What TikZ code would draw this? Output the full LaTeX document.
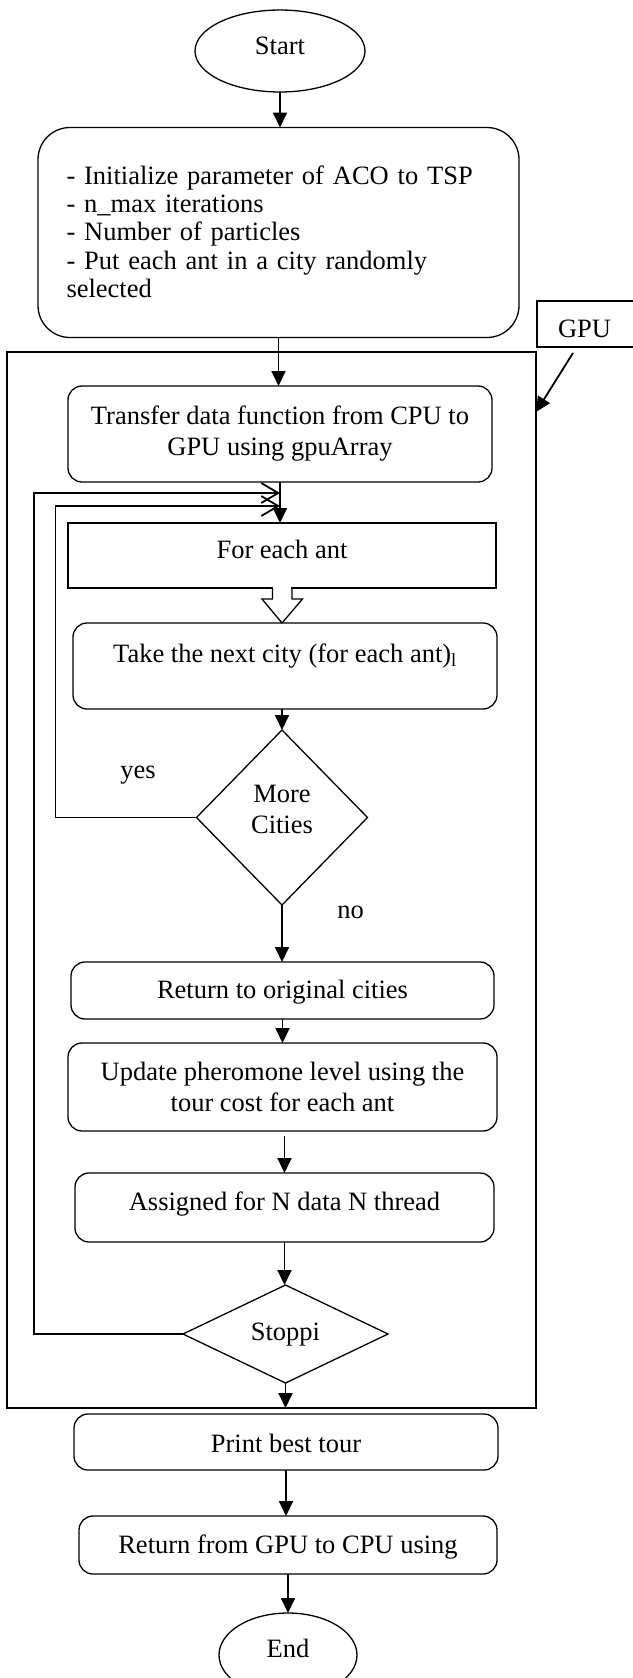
\documentclass[tikz,border=0pt]{standalone}
\usepackage{fontspec}
\setmainfont{Liberation Serif}
\usetikzlibrary{shapes.geometric,arrows.meta,calc}
\begin{document}
\begin{tikzpicture}[x=1pt,y=-1pt,
  every node/.style={font=\fontsize{26.5pt}{31pt}\selectfont, inner sep=0pt, outer sep=0pt},
  box/.style={draw, line width=1.3pt, rounded corners=14pt},
  sqbox/.style={draw, line width=1.3pt},
  tdep/.style={text height=19pt, text depth=#1},
  dia/.style={draw, diamond, line width=1.3pt},
  oval/.style={draw, ellipse, line width=1.3pt},
  arr/.style={line width=1.8pt, -{Triangle[length=15pt,width=14pt]}},
  back/.style={line width=1.8pt, -{Straight Barb[length=17pt,width=20pt,line width=1.8pt]}},
  lbl/.style={anchor=base}]
\useasboundingbox (0,0) rectangle (632,1678);
\fill[white] (0,0) rectangle (632,1678);

% frame (GPU region)
\node[draw, line width=1.2pt, minimum width=529pt, minimum height=1056pt] (frame) at (271.5,880) {};

\node[oval, minimum width=170pt, minimum height=82pt, tdep=11pt] (start) at (280,51) {Start};

\node[box, rounded corners=32pt, minimum width=481pt, minimum height=210pt,
      text width=424pt, inner xsep=28.5pt, align=left,
      font=\fontsize{26.5pt}{28.3pt}\selectfont] (init) at (278.5,232.5)
  {- Initialize parameter of ACO to TSP\\
   - n\_max iterations\\
   - Number of particles\\
   - Put each ant in a city randomly\\
   selected\rule[-2pt]{0pt}{2pt}};

\node[draw, line width=1.3pt, anchor=west, minimum height=46pt, text height=26pt, text depth=0pt] (gpu) at (537,324)
  {\hspace*{21pt}GPU\hspace*{60pt}};

\node[box, minimum width=424pt, minimum height=96pt, align=center] (transfer) at (280,434)
  {Transfer data function from CPU to\\GPU using gpuArray};

\node[sqbox, minimum width=428pt, minimum height=65pt, tdep=14pt] (foreach) at (282,555.5) {For each ant};

\node[box, minimum width=424pt, minimum height=86pt, tdep=27pt] (take) at (285,666)
  {Take the next city (for each ant)\textsubscript{l}};

\node[dia, minimum width=171pt, minimum height=175pt, align=center] (more) at (282,817.5)
  {More\\Cities\rule[-16pt]{0pt}{16pt}};

\node[lbl] (yes) at (138,778) {yes};
\node[lbl] (no) at (350.5,918) {no};

\node[box, minimum width=423pt, minimum height=57pt, tdep=4pt] (retorig) at (282.5,990.5) {Return to original cities};

\node[box, minimum width=429pt, minimum height=88pt, align=center] (update) at (282.5,1087)
  {Update pheromone level using the\\tour cost for each ant};

\node[box, minimum width=419pt, minimum height=69pt, tdep=14pt] (assigned) at (284.5,1207.5) {Assigned for N data N thread};

\node[dia, shape aspect=2, minimum width=205pt, minimum height=98pt, tdep=7pt] (stop) at (285.5,1334) {Stoppi};

\node[box, minimum width=424pt, minimum height=56pt, text height=21pt, text depth=1pt] (print) at (286,1442) {Print best tour};

\node[box, minimum width=418pt, minimum height=58pt, tdep=3pt] (retgpu) at (288,1545) {Return from GPU to CPU using};

\node[oval, minimum width=138pt, minimum height=84pt, tdep=15pt] (end) at (288,1655) {End};

% junctions on the main line
\coordinate (j1) at ($(transfer.south)+(0,11)$);
\coordinate (j2) at ($(transfer.south)+(0,24)$);

% connectors
\draw[arr] (start.south) -- (start.south |- init.north);
\draw[arr] (init.south) -- (init.south |- transfer.north);
\draw[arr] ($(gpu.south west)+(36,6)$) -- ($(frame.north east)+(0,60)$);
\draw[arr] (transfer.south) -- (transfer.south |- foreach.north);

% hollow block arrow
\fill[white] ($(foreach.south)+(-8.7,-2)$) rectangle ($(foreach.south)+(9.3,2)$);
\draw[line width=1.3pt, line join=miter] ($(foreach.south)+(-9.5,0)$) -- ++(0,11) -- ++(-10.5,0)
   -- (take.north -| foreach.south) -- ($(foreach.south)+(20.5,11)$) -- ++(-10.5,0) -- ++(0,-11);

\draw[arr] (more.north |- take.south) -- (more.north);
\draw[back] (more.west) -- ++(-141,0) |- (j2);
\draw[arr] (more.south) -- (more.south |- retorig.north);
\draw[arr] (retorig.south) -- (retorig.south |- update.north);
\draw[arr] ($(assigned.north |- update.south)+(0,5)$) -- (assigned.north);
\draw[arr] (assigned.south) -- (assigned.south |- stop.north);
\draw[back] (stop.west) -- ++(-149,0) |- (j1);
\draw[arr] (stop.south) -- (stop.south |- frame.south);
\draw[arr] (print.south) -- (print.south |- retgpu.north);
\draw[arr] (end.north |- retgpu.south) -- (end.north);
\end{tikzpicture}
\end{document}
